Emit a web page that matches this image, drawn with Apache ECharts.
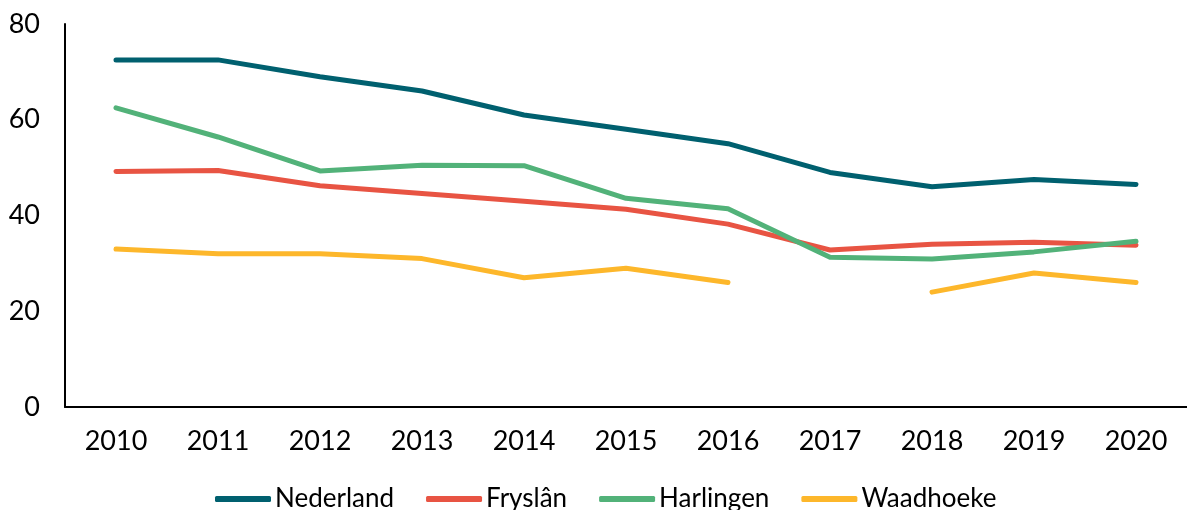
<!DOCTYPE html>
<html>
<head>
<meta charset="utf-8">
<script src="https://cdn.jsdelivr.net/npm/echarts@6/dist/echarts.min.js"></script>
<style>html,body{margin:0;padding:0;background:#fff}#c{width:1187px;height:510px}</style>
</head>
<body>
<div id="c"></div>
<script>
const years = ['2010','2011','2012','2013','2014','2015','2016','2017','2018','2019','2020'];
const nederland = [72.5, 72.5, 69, 66, 61, 58, 55, 49, 46, 47.5, 46.5];
const fryslan = [49.2, 49.4, 46.2, 44.6, 43, 41.3, 38.2, 32.8, 34, 34.4, 33.8];
const harlingen = [62.5, 56.4, 49.3, 50.5, 50.4, 43.6, 41.4, 31.3, 30.9, 32.4, 34.6];
const waadhoeke = [33, 32, 32, 31, 27, 29, 26, null, 24, 28, 26];
const yTicks = {min: 0, max: 80, interval: 20};

const colors = ['#00606F', '#E85443', '#52B279', '#FDB72B'];
const names = ['Nederland', 'Fryslân', 'Harlingen', 'Waadhoeke'];
const datas = [nederland, fryslan, harlingen, waadhoeke];
const font = 'Lato, "Liberation Sans", sans-serif';

const chart = echarts.init(document.getElementById('c'), null, {renderer: 'canvas'});
chart.setOption({
  animation: false,
  color: colors,
  grid: {left: 65, top: 24, width: 1127, height: 383, containLabel: false},
  xAxis: {
    type: 'category', data: years, boundaryGap: true,
    axisLine: {show: true, lineStyle: {color: '#000', width: 2}},
    axisTick: {show: false},
    axisLabel: {color: '#000', fontSize: 27, fontFamily: font, margin: 21}
  },
  yAxis: {
    type: 'value', min: yTicks.min, max: yTicks.max, interval: yTicks.interval,
    axisLine: {show: true, lineStyle: {color: '#000', width: 2}},
    axisTick: {show: false},
    splitLine: {show: false},
    axisLabel: {color: '#000', fontSize: 27, fontFamily: font, margin: 25}
  },
  legend: {
    data: names, top: 481, left: 210,
    icon: 'roundRect', itemWidth: 56, itemHeight: 6, itemGap: 32,
    textStyle: {color: '#000', fontSize: 26, fontFamily: font, padding: [0, 0, 0, -1]}
  },
  series: names.map((n, i) => ({
    name: n, type: 'line', data: datas[i], showSymbol: false, symbol: 'none',
    connectNulls: false,
    lineStyle: {width: 5, color: colors[i], cap: 'round', join: 'round'},
    itemStyle: {color: colors[i]}
  }))
});
</script>
</body>
</html>
